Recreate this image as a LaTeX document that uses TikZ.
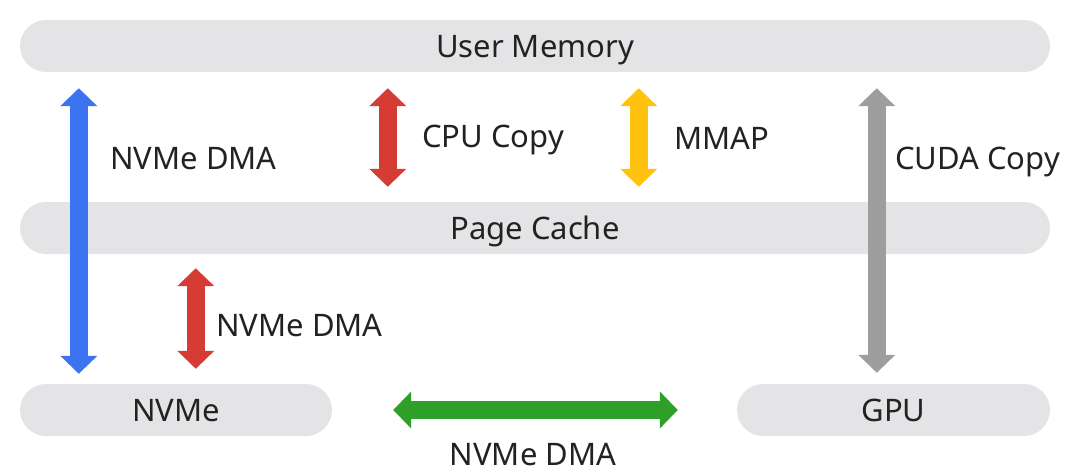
\documentclass[tikz,border=0pt]{standalone}
\usepackage{fontspec}
\setmainfont{Noto Sans}
\usepackage{xcolor}
\definecolor{barfill}{HTML}{E4E4E6}
\definecolor{txtgray}{HTML}{222222}
\definecolor{dmablue}{HTML}{3B73F0}
\definecolor{cpured}{HTML}{D63B34}
\definecolor{mmapyellow}{HTML}{FFC20E}
\definecolor{cudagray}{HTML}{9E9E9E}
\definecolor{dmagreen}{HTML}{2EA02A}
\usepackage{tikz}
\usetikzlibrary{arrows.meta,positioning}

\begin{document}
\begin{tikzpicture}[x=1pt,y=-1pt,font=\fontsize{31}{35}\selectfont,text=txtgray]
\tikzset{
 bar/.style={fill=barfill,rounded corners=26pt,minimum height=52pt,inner sep=0pt,text depth=0pt},
 fat/.style={{Triangle[width=36pt,length=18pt]}-{Triangle[width=36pt,length=18pt]},line width=18pt,draw=#1},
 lbl/.style={anchor=west,inner sep=0pt,text depth=0pt}
}
\useasboundingbox (0,0) rectangle (1080,474);
\node[bar,minimum width=1030pt] (um) at (535,46) {User Memory};
\node[bar,minimum width=1030pt] (pc) at (535,228) {Page Cache};
\node[bar,minimum width=312pt] (nvme) at (176,410) {NVMe};
\node[bar,minimum width=313pt] (gpu) at (893.5,410) {GPU};
% arrows between the layers
\draw[fat=dmablue] ([xshift=59pt,yshift=-16pt]um.south west) -- ([xshift=59pt,yshift=10pt]nvme.north west);
\draw[fat=cpured] ([xshift=368pt,yshift=-16pt]um.south west) -- ([xshift=368pt,yshift=15pt]pc.north west);
\draw[fat=mmapyellow] ([xshift=619pt,yshift=-16pt]um.south west) -- ([xshift=619pt,yshift=15pt]pc.north west);
\draw[fat=cudagray] ([xshift=857pt,yshift=-16pt]um.south west) -- ([xshift=140pt,yshift=11pt]gpu.north west);
\draw[fat=cpured] ([xshift=176pt,yshift=-14pt]pc.south west) -- ([xshift=176pt,yshift=15pt]nvme.north west);
\draw[fat=dmagreen] ([xshift=61pt]nvme.east) -- ([xshift=-59pt]gpu.west);
% labels
\node[lbl] (l1) at (110,158) {NVMe DMA};
\node[lbl] (l2) at (422,136) {CPU Copy};
\node[lbl] (l3) at (674,138) {MMAP};
\node[lbl] (l4) at (895,158) {CUDA Copy};
\node[lbl] (l5) at (216,325) {NVMe DMA};
\node[inner sep=0pt] (l6) at (533,455) {NVMe DMA};
\end{tikzpicture}
\end{document}
